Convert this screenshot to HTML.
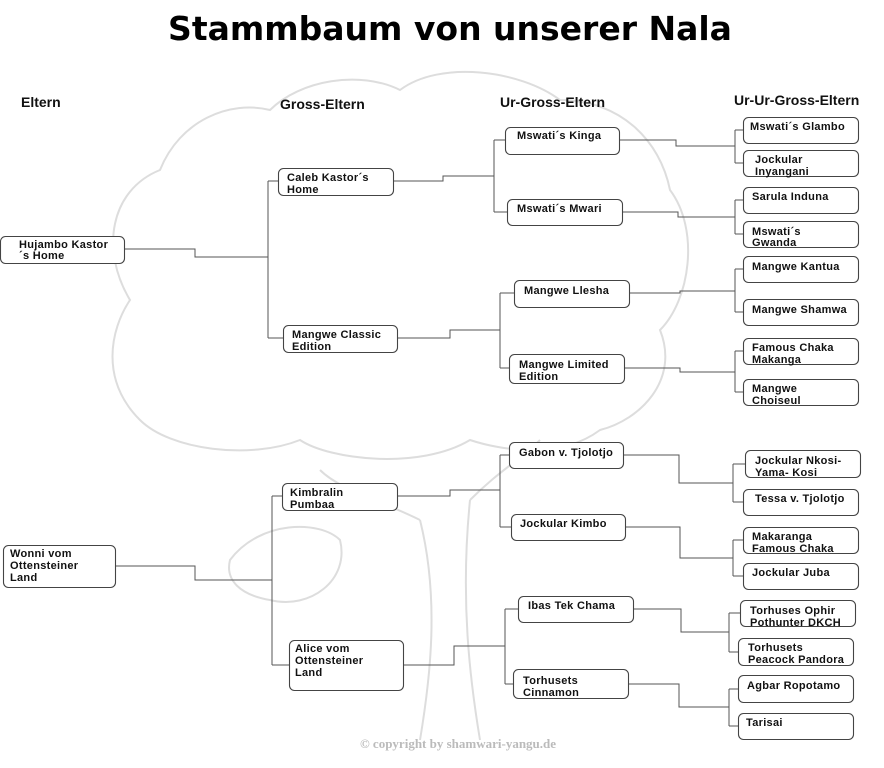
<!DOCTYPE html>
<html><head><meta charset="utf-8"><style>
body{margin:0;background:#fff;width:884px;height:768px;overflow:hidden}
svg{display:block}
.t{font-family:"Liberation Sans",sans-serif;font-weight:bold;font-size:11px;letter-spacing:0.3px;fill:#111}
.h{font-family:"Liberation Sans",sans-serif;font-weight:bold;font-size:14px;fill:#111}
rect{fill:#fff;stroke:#444;stroke-width:1.1}
path.c{fill:none;stroke:#555;stroke-width:1}
.tree{fill:none;stroke:#ddd;stroke-width:2}
</style></head><body>
<svg width="884" height="768" viewBox="0 0 884 768">
<path class="tree" d="M140,420 C100,380 110,330 130,300 C100,250 110,190 160,170 C180,120 230,100 270,110 C300,80 360,70 400,90 C440,60 520,70 560,100 C620,100 660,140 670,190 C700,230 690,300 660,330 C680,380 640,420 600,430 C560,460 500,450 470,440 C420,470 330,460 300,440 C250,460 170,450 140,420 Z"/>
<path class="tree" d="M420,740 C430,680 440,600 420,520 M480,740 C470,680 460,600 470,500 M420,520 C380,500 340,490 320,470 M470,500 C500,470 520,460 540,440"/>
<path class="tree" d="M230,560 C260,520 320,520 340,540 C350,580 310,610 270,600 C240,595 225,580 230,560Z"/>
<text x="450" y="40" text-anchor="middle" style="font-family:'DejaVu Sans',sans-serif;font-weight:bold;font-size:33px;fill:#000">Stammbaum von unserer Nala</text>
<text class="h" x="21" y="107">Eltern</text>
<text class="h" x="280" y="109">Gross-Eltern</text>
<text class="h" x="500" y="107">Ur-Gross-Eltern</text>
<text class="h" x="734" y="105">Ur-Ur-Gross-Eltern</text>

<path class="c" d="M124,249 H195 V257 H268 M268,181 V338 M268,181 H278 M268,338 H283"/>
<path class="c" d="M115,566 H195 V580 H272 M272,496 V665 M272,496 H282 M272,665 H289"/>
<path class="c" d="M393,181 H443 V176 H494 M494,140 V212 M494,140 H505 M494,212 H507"/>
<path class="c" d="M397,338 H450 V330 H500 M500,293 V368 M500,293 H514 M500,368 H509"/>
<path class="c" d="M397,496 H450 V490 H500 M500,455 V527 M500,455 H509 M500,527 H511"/>
<path class="c" d="M403,665 H454 V646 H505 M505,609 V684 M505,609 H518 M505,684 H513"/>
<path class="c" d="M619,140 H676 V146 H735 M735,130 V163 M735,130 H743 M735,163 H743"/>
<path class="c" d="M622,212 H678 V217 H735 M735,200 V234 M735,200 H743 M735,234 H743"/>
<path class="c" d="M629,293 H680 V291 H735 M735,269 V312 M735,269 H743 M735,312 H743"/>
<path class="c" d="M624,368 H680 V372 H735 M735,351 V392 M735,351 H743 M735,392 H743"/>
<path class="c" d="M623,455 H679 V483 H733 M733,464 V502 M733,464 H745 M733,502 H743"/>
<path class="c" d="M625,527 H680 V558 H733 M733,540 V576 M733,540 H743 M733,576 H743"/>
<path class="c" d="M633,609 H681 V632 H729 M729,613 V652 M729,613 H740 M729,652 H738"/>
<path class="c" d="M628,684 H679 V707 H729 M729,689 V726 M729,689 H738 M729,726 H738"/>

<rect x="0.5" y="236.5" width="124" height="27" rx="5"/><text class="t" x="19" y="248">Hujambo Kastor</text><text class="t" x="19" y="259">´s Home</text>
<rect x="3.5" y="545.5" width="112" height="42" rx="5"/><text class="t" x="10" y="557">Wonni vom</text><text class="t" x="10" y="569">Ottensteiner</text><text class="t" x="10" y="581">Land</text>
<rect x="278.5" y="168.5" width="115" height="27" rx="5"/><text class="t" x="287" y="181">Caleb Kastor´s</text><text class="t" x="287" y="193">Home</text>
<rect x="283.5" y="325.5" width="114" height="27" rx="5"/><text class="t" x="292" y="338">Mangwe Classic</text><text class="t" x="292" y="350">Edition</text>
<rect x="282.5" y="483.5" width="115" height="27" rx="5"/><text class="t" x="290" y="496">Kimbralin</text><text class="t" x="290" y="508">Pumbaa</text>
<rect x="289.5" y="640.5" width="114" height="50" rx="5"/><text class="t" x="295" y="652">Alice vom</text><text class="t" x="295" y="664">Ottensteiner</text><text class="t" x="295" y="676">Land</text>

<rect x="505.5" y="127.5" width="114" height="27" rx="5"/><text class="t" x="517" y="139">Mswati´s Kinga</text>
<rect x="507.5" y="199.5" width="115" height="26" rx="5"/><text class="t" x="517" y="212">Mswati´s Mwari</text>
<rect x="514.5" y="280.5" width="115" height="27" rx="5"/><text class="t" x="524" y="294">Mangwe Llesha</text>
<rect x="509.5" y="354.5" width="115" height="29" rx="5"/><text class="t" x="519" y="368">Mangwe Limited</text><text class="t" x="519" y="380">Edition</text>
<rect x="509.5" y="442.5" width="114" height="26" rx="5"/><text class="t" x="519" y="456">Gabon v. Tjolotjo</text>
<rect x="511.5" y="514.5" width="114" height="26" rx="5"/><text class="t" x="520" y="527">Jockular Kimbo</text>
<rect x="518.5" y="596.5" width="115" height="26" rx="5"/><text class="t" x="528" y="609">Ibas Tek Chama</text>
<rect x="513.5" y="669.5" width="115" height="29" rx="5"/><text class="t" x="523" y="684">Torhusets</text><text class="t" x="523" y="696">Cinnamon</text>

<rect x="743.5" y="117.5" width="115" height="26" rx="5"/><text class="t" x="750" y="130">Mswati´s Glambo</text>
<rect x="743.5" y="150.5" width="115" height="26" rx="5"/><text class="t" x="755" y="163">Jockular</text><text class="t" x="755" y="175">Inyangani</text>
<rect x="743.5" y="187.5" width="115" height="26" rx="5"/><text class="t" x="752" y="200">Sarula Induna</text>
<rect x="743.5" y="221.5" width="115" height="26" rx="5"/><text class="t" x="752" y="235">Mswati´s</text><text class="t" x="752" y="246">Gwanda</text>
<rect x="743.5" y="256.5" width="115" height="26" rx="5"/><text class="t" x="752" y="270">Mangwe Kantua</text>
<rect x="743.5" y="299.5" width="115" height="26" rx="5"/><text class="t" x="752" y="313">Mangwe Shamwa</text>
<rect x="743.5" y="338.5" width="115" height="26" rx="5"/><text class="t" x="752" y="351">Famous Chaka</text><text class="t" x="752" y="363">Makanga</text>
<rect x="743.5" y="379.5" width="115" height="26" rx="5"/><text class="t" x="752" y="392">Mangwe</text><text class="t" x="752" y="404">Choiseul</text>
<rect x="745.5" y="450.5" width="115" height="27" rx="5"/><text class="t" x="755" y="464">Jockular Nkosi-</text><text class="t" x="755" y="476">Yama- Kosi</text>
<rect x="743.5" y="489.5" width="115" height="26" rx="5"/><text class="t" x="755" y="502">Tessa v. Tjolotjo</text>
<rect x="743.5" y="527.5" width="115" height="26" rx="5"/><text class="t" x="752" y="540">Makaranga</text><text class="t" x="752" y="552">Famous Chaka</text>
<rect x="743.5" y="563.5" width="115" height="26" rx="5"/><text class="t" x="752" y="576">Jockular Juba</text>
<rect x="740.5" y="600.5" width="115" height="26" rx="5"/><text class="t" x="750" y="614">Torhuses Ophir</text><text class="t" x="750" y="626">Pothunter DKCH</text>
<rect x="738.5" y="638.5" width="115" height="27" rx="5"/><text class="t" x="748" y="651">Torhusets</text><text class="t" x="748" y="663">Peacock Pandora</text>
<rect x="738.5" y="675.5" width="115" height="27" rx="5"/><text class="t" x="747" y="689">Agbar Ropotamo</text>
<rect x="738.5" y="713.5" width="115" height="26" rx="5"/><text class="t" x="746" y="726">Tarisai</text>

<text x="458" y="748" text-anchor="middle" style="font-family:'Liberation Serif',serif;font-weight:bold;font-size:13px;fill:#bbb">© copyright by shamwari-yangu.de</text>
</svg>
</body></html>
